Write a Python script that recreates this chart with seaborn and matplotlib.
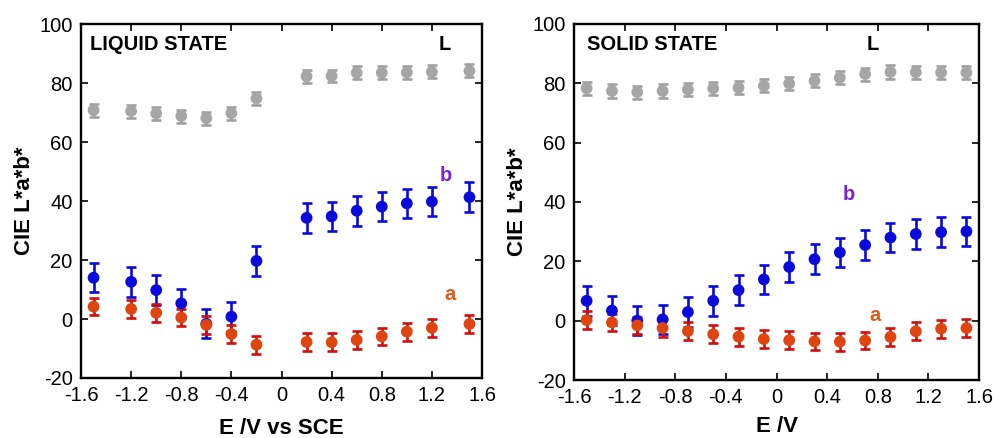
import numpy as np
import pandas as pd
import matplotlib
matplotlib.use("Agg")
import matplotlib.pyplot as plt
import seaborn as sns

# ---------------- data ----------------
x_liquid = [-1.5, -1.2, -1.0, -0.8, -0.6, -0.4, -0.2, 0.2, 0.4, 0.6, 0.8, 1.0, 1.2, 1.5]
L_liquid = [70.8, 70.5, 69.7, 68.8, 68.1, 69.8, 74.8, 82.3, 82.4, 83.5, 83.5, 83.6, 83.8, 84.1]
a_liquid = [4.2, 3.4, 2.1, 0.5, -2.0, -5.1, -8.7, -7.8, -7.9, -7.1, -5.9, -4.3, -3.0, -1.7]
b_liquid = [14.0, 12.6, 9.8, 5.3, -1.6, 0.8, 19.7, 34.3, 34.8, 36.7, 38.1, 39.2, 39.8, 41.3]

x_solid = [-1.5, -1.3, -1.1, -0.9, -0.7, -0.5, -0.3, -0.1, 0.1, 0.3, 0.5, 0.7, 0.9, 1.1, 1.3, 1.5]
L_solid = [78.3, 77.4, 77.0, 77.4, 77.9, 78.3, 78.5, 79.1, 79.9, 80.8, 81.9, 83.1, 83.8, 83.7, 83.6, 83.6]
a_solid = [0.2, -0.6, -1.6, -2.5, -3.5, -4.6, -5.4, -6.2, -6.6, -7.0, -7.1, -6.7, -5.5, -3.6, -2.7, -2.5]
b_solid = [6.7, 3.4, 0.0, 0.4, 2.9, 6.7, 10.3, 13.9, 18.1, 20.7, 23.0, 25.5, 28.0, 29.2, 29.8, 30.1]

err_L = 2.2
err_a = 3.0
err_b = 5.0

x_ticks = [-1.6, -1.2, -0.8, -0.4, 0, 0.4, 0.8, 1.2, 1.6]
x_tick_labels = ["-1.6", "-1.2", "-0.8", "-0.4", "0", "0.4", "0.8", "1.2", "1.6"]
y_ticks = [-20, 0, 20, 40, 60, 80, 100]

titles = ["LIQUID STATE", "SOLID STATE"]
xlabels = ["E /V vs SCE", "E /V"]
ylabel = "CIE L*a*b*"

# --------------- style ---------------
sns.set_theme(style="white")
plt.rcParams["font.family"] = ["Liberation Sans", "DejaVu Sans"]
plt.rcParams["axes.unicode_minus"] = False
plt.rcParams["text.color"] = "black"
plt.rcParams["axes.labelcolor"] = "black"
plt.rcParams["xtick.color"] = "black"
plt.rcParams["ytick.color"] = "black"
plt.rcParams["xtick.direction"] = "in"
plt.rcParams["ytick.direction"] = "in"

c_L = "#a6a6a6"
c_L_err = "#a0a0a0"
c_b = "#0a0adc"
c_a = "#e0450f"
c_a_err = "#d01010"
c_b_lab = "#7a22d6"
c_a_lab = "#e05a1a"

fig = plt.figure(figsize=(9.93, 4.38), dpi=100)
ax1 = fig.add_axes([0.0816, 0.137, 0.4038, 0.808])
ax2 = fig.add_axes([0.578, 0.1324, 0.408, 0.813])

panels = [
    (ax1, x_liquid, L_liquid, a_liquid, b_liquid),
    (ax2, x_solid, L_solid, a_solid, b_solid),
]

xlabelpads = [9, 6]

for i, (ax, xs, Ls, As, Bs) in enumerate(panels):
    df = pd.DataFrame({"E": xs, "L": Ls, "a": As, "b": Bs})
    for col, cm, ce, err in [("L", c_L, c_L_err, err_L), ("b", c_b, c_b, err_b), ("a", c_a, c_a_err, err_a)]:
        ax.errorbar(df["E"], df[col], yerr=err, fmt="none", ecolor=ce,
                    elinewidth=1.9, capsize=3.6, capthick=1.9, zorder=2)
        sns.scatterplot(data=df, x="E", y=col, ax=ax, color=cm, s=72,
                        edgecolor="none", zorder=3, legend=False)

    ax.set_xlim(-1.6, 1.6)
    ax.set_ylim(-20, 100)
    ax.set_xticks(x_ticks)
    ax.set_xticklabels(x_tick_labels)
    ax.set_yticks(y_ticks)
    ax.tick_params(axis="both", which="both", top=True, right=True, bottom=True, left=True,
                   length=5, width=1.2, labelsize=14.5, color="black", labelcolor="black", pad=6)
    for sp in ax.spines.values():
        sp.set_visible(True)
        sp.set_color("black")
        sp.set_linewidth(1.7)
    ax.set_xlabel(xlabels[i], fontsize=16, fontweight="bold", labelpad=xlabelpads[i], color="black")
    ax.set_ylabel(ylabel, fontsize=16, fontweight="bold", labelpad=3, color="black")
    ax.grid(False)

fs_ann = 14.5
# annotations
ax1.text(-1.53, 93, titles[0], fontsize=fs_ann, fontweight="bold", va="center", ha="left", color="black")
ax1.text(1.30, 93, "L", fontsize=fs_ann, fontweight="bold", va="center", ha="center", color="black")
ax1.text(1.31, 48.6, "b", fontsize=fs_ann, fontweight="bold", va="center", ha="center", color=c_b_lab)
ax1.text(1.345, 8.4, "a", fontsize=fs_ann, fontweight="bold", va="center", ha="center", color=c_a_lab)

ax2.text(-1.5, 93, titles[1], fontsize=fs_ann, fontweight="bold", va="center", ha="left", color="black")
ax2.text(0.76, 93, "L", fontsize=fs_ann, fontweight="bold", va="center", ha="center", color="black")
ax2.text(0.57, 42.6, "b", fontsize=fs_ann, fontweight="bold", va="center", ha="center", color=c_b_lab)
ax2.text(0.78, 1.6, "a", fontsize=fs_ann, fontweight="bold", va="center", ha="center", color=c_a_lab)

fig.savefig("out.png", dpi=100)
